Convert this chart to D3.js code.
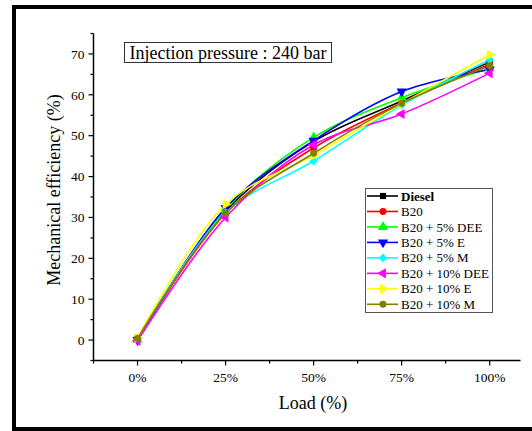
<!DOCTYPE html>
<html>
<head>
<meta charset="utf-8">
<script src="https://cdn.jsdelivr.net/npm/d3@7"></script>
<style>
  html, body { margin: 0; padding: 0; background: #fff; }
  svg { display: block; }
  svg text { font-family: "Liberation Serif", "DejaVu Serif", serif; }
</style>
</head>
<body>
<div class="chart"></div>
<script>
// Load categories on the x axis
var loads = ["0%", "25%", "50%", "75%", "100%"];

// Mechanical efficiency (%) per fuel blend
var diesel    = [0.3, 31.5, 48.6, 58.5, 68.0];
var b20       = [0.2, 31.0, 47.0, 58.0, 67.5];
var b20_5dee  = [0.1, 32.0, 49.6, 59.3, 66.5];
var b20_5e    = [0.0, 32.3, 48.8, 60.8, 66.2];
var b20_5m    = [0.2, 31.2, 43.8, 57.5, 68.6];
var b20_10dee = [-0.2, 30.0, 47.8, 55.3, 65.3];
var b20_10e   = [0.5, 33.2, 45.2, 57.8, 69.8];
var b20_10m   = [0.4, 31.0, 45.7, 57.9, 67.1];

var yTicks = [0, 10, 20, 30, 40, 50, 60, 70];

var series = [
    { name: "Diesel",         values: diesel,    color: "#000000", sym: d3.symbolSquare,   rot: 0 },
    { name: "B20",            values: b20,       color: "#ff0000", sym: d3.symbolCircle,   rot: 0 },
    { name: "B20 + 5% DEE",   values: b20_5dee,  color: "#00ff00", sym: d3.symbolTriangle, rot: 0 },
    { name: "B20 + 5% E",     values: b20_5e,    color: "#0000ff", sym: d3.symbolTriangle, rot: 180 },
    { name: "B20 + 5% M",     values: b20_5m,    color: "#00ffff", sym: d3.symbolSquare,   rot: 45 },
    { name: "B20 + 10% DEE",  values: b20_10dee, color: "#ff00ff", sym: d3.symbolTriangle, rot: -90 },
    { name: "B20 + 10% E",    values: b20_10e,   color: "#ffff00", sym: d3.symbolTriangle, rot: 90 },
    { name: "B20 + 10% M",    values: b20_10m,   color: "#808000", sym: d3.symbolCircle,   rot: 0 }
];

var width = 532, height = 431;

var svg = d3.select(".chart")
    .append("svg")
    .attr("width", width)
    .attr("height", height)
    .attr("font-family", "'Liberation Serif', 'DejaVu Serif', serif");

// Outer frame (right side is cut off in the original)
svg.append("rect")
    .attr("x", 14).attr("y", 7)
    .attr("width", 540).attr("height", 422)
    .attr("fill", "none")
    .attr("stroke", "#000")
    .attr("stroke-width", 4);

// Scales
var xScale = d3.scaleLinear().domain([-0.5, 4.35]).range([93.5, 520.5]);
var yScale = d3.scaleLinear().domain([-5, 75]).range([360.5, 33.5]);

// x axis
var xAxis = svg.append("g")
    .attr("transform", "translate(0," + yScale(-5) + ")");
xAxis.append("line")
    .attr("x1", xScale(-0.5)).attr("x2", xScale(4.35))
    .attr("stroke", "#000").attr("stroke-width", 1.5);
xAxis.selectAll(".major").data(loads).enter().append("line")
    .attr("x1", (d, i) => xScale(i)).attr("x2", (d, i) => xScale(i))
    .attr("y1", 0).attr("y2", 5)
    .attr("stroke", "#000").attr("stroke-width", 1.2);
xAxis.selectAll(".minor").data(d3.range(-0.5, 4, 1)).enter().append("line")
    .attr("x1", (d) => xScale(d)).attr("x2", (d) => xScale(d))
    .attr("y1", 0).attr("y2", 3)
    .attr("stroke", "#000").attr("stroke-width", 1.2);
xAxis.selectAll("text").data(loads).enter().append("text")
    .attr("x", (d, i) => xScale(i))
    .attr("y", 21)
    .attr("text-anchor", "middle")
    .attr("font-size", 13.5)
    .attr("fill", "#000")
    .text((d) => d);

svg.append("text")
    .attr("x", 313).attr("y", 409)
    .attr("text-anchor", "middle")
    .attr("font-size", 18)
    .text("Load (%)");

// y axis
var yAxis = svg.append("g")
    .attr("transform", "translate(" + xScale(-0.5) + ",0)");
yAxis.append("line")
    .attr("y1", yScale(-5)).attr("y2", yScale(75))
    .attr("stroke", "#000").attr("stroke-width", 1.5);
yAxis.selectAll(".major").data(yTicks).enter().append("line")
    .attr("y1", (d) => yScale(d)).attr("y2", (d) => yScale(d))
    .attr("x1", 0).attr("x2", -5)
    .attr("stroke", "#000").attr("stroke-width", 1.2);
yAxis.selectAll(".minor").data(d3.range(-5, 80, 10)).enter().append("line")
    .attr("y1", (d) => yScale(d)).attr("y2", (d) => yScale(d))
    .attr("x1", 0).attr("x2", -3)
    .attr("stroke", "#000").attr("stroke-width", 1.2);
yAxis.selectAll("text").data(yTicks).enter().append("text")
    .attr("x", -9)
    .attr("y", (d) => yScale(d))
    .attr("dy", "0.35em")
    .attr("text-anchor", "end")
    .attr("font-size", 13.5)
    .text((d) => d);

svg.append("text")
    .attr("transform", "translate(60," + 190 + ") rotate(-90)")
    .attr("text-anchor", "middle")
    .attr("font-size", 18)
    .text("Mechanical efficiency (%)");

// Lines
var line = d3.line()
    .x((d, i) => xScale(i))
    .y((d) => yScale(d))
    .curve(d3.curveCatmullRom.alpha(0.5));

var symbolPath = (s) => d3.symbol().type(s.sym).size(s.sym === d3.symbolTriangle ? 45 : 38)();

series.forEach((s) => {
    svg.append("path")
        .datum(s.values)
        .attr("d", line)
        .attr("fill", "none")
        .attr("stroke", s.color)
        .attr("stroke-width", 1.6);
});

series.forEach((s) => {
    svg.selectAll(null).data(s.values).enter().append("path")
        .attr("d", symbolPath(s))
        .attr("transform", (d, i) => "translate(" + xScale(i) + "," + yScale(d) + ") rotate(" + s.rot + ")")
        .attr("fill", s.color);
});

// Title box
var tb = svg.append("g");
tb.append("rect")
    .attr("x", 124.5).attr("y", 42.5)
    .attr("width", 207).attr("height", 20)
    .attr("fill", "#fff")
    .attr("stroke", "#333").attr("stroke-width", 1);
tb.append("text")
    .attr("x", 228).attr("y", 58.5)
    .attr("text-anchor", "middle")
    .attr("font-size", 18)
    .text("Injection pressure : 240 bar");

// Legend
var legend = svg.append("g");
legend.append("rect")
    .attr("x", 365.5).attr("y", 188.5)
    .attr("width", 127).attr("height", 124)
    .attr("fill", "#fff")
    .attr("stroke", "#555").attr("stroke-width", 1);

var rows = legend.selectAll(".row").data(series).enter().append("g")
    .attr("transform", (d, i) => "translate(0," + (196 + i * 15.47) + ")");
rows.append("line")
    .attr("x1", 367).attr("x2", 398)
    .attr("stroke", (d) => d.color).attr("stroke-width", 1.6);
rows.append("path")
    .attr("d", (d) => symbolPath(d))
    .attr("transform", (d) => "translate(383,0) rotate(" + d.rot + ")")
    .attr("fill", (d) => d.color);
rows.append("text")
    .attr("x", 401).attr("dy", "0.35em")
    .attr("font-size", 13)
    .attr("font-weight", (d, i) => i === 0 ? "bold" : "normal")
    .text((d) => d.name);
</script>
</body>
</html>
